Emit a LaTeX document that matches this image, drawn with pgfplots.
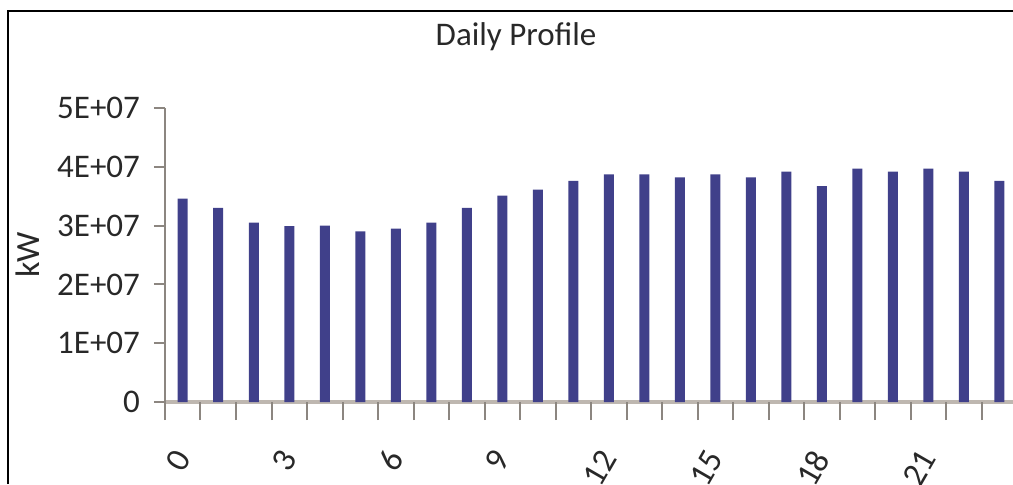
\documentclass[border=0pt]{standalone}
\usepackage{fontspec}
\setmainfont{Carlito}
\usepackage{pgfplots}
\pgfplotsset{compat=1.18}
\definecolor{barblue}{RGB}{64,64,138}
\definecolor{axlight}{RGB}{190,183,176}
\definecolor{axdark}{RGB}{140,134,128}
\definecolor{txt}{RGB}{40,40,40}
\begin{document}
\begin{tikzpicture}
\begin{axis}[
  at={(82.5pt,41pt)}, anchor=south west,
  scale only axis=true,
  width=426pt, height=147pt,
  xmin=-0.5, xmax=23.5,
  ymin=0, ymax=5e7,
  axis lines*=left,
  x axis line style={draw=axlight, line width=2pt},
  y axis line style={draw=axdark, line width=1pt},
  tick align=outside,
  major tick length=5.5pt,
  ytick={0,1e7,2e7,3e7,4e7,5e7},
  yticklabels={0,1E+07,2E+07,3E+07,4E+07,5E+07},
  scaled y ticks=false,
  ytick style={draw=axdark, line width=1pt},
  yticklabel style={font=\fontsize{16.5}{18}\selectfont, text=txt, xshift=-3.5pt},
  xtick={0,3,...,21},
  xticklabels={0,3,6,9,12,15,18,21},
  xtick style={draw=none},
  xticklabel style={font=\fontsize{17}{18}\selectfont, text=txt, yshift=-20pt, rotate=60, anchor=east, inner sep=0pt},
  extra x ticks={-0.5,0.5,...,23.5},
  extra x tick labels={},
  extra x tick style={major tick length=9pt, xtick style={draw=axdark, line width=1pt}},
  /pgf/number format/assume math mode=true,
  every axis y label/.style={at={(axis description cs:-0.161,0.5)}, rotate=90, anchor=center, font=\fontsize{17}{18}\selectfont, text=txt},
  ylabel={kW},
  clip=false,
]
\addplot[ybar, bar width=5pt, bar shift=0pt, fill=barblue, draw=none] coordinates {
  (0,3.46e7) (1,3.30e7) (2,3.05e7) (3,2.99e7) (4,3.00e7) (5,2.90e7)
  (6,2.95e7) (7,3.05e7) (8,3.30e7) (9,3.51e7) (10,3.61e7) (11,3.76e7)
  (12,3.87e7) (13,3.87e7) (14,3.82e7) (15,3.87e7) (16,3.82e7) (17,3.92e7)
  (18,3.67e7) (19,3.97e7) (20,3.92e7) (21,3.97e7) (22,3.92e7) (23,3.76e7)
};
\end{axis}
\node[font=\fontsize{16.5}{18}\selectfont, text=txt] at (258pt,223.5pt) {Daily Profile};
\draw[line width=1pt, black] (4pt,0pt) -- (4pt,236.5pt) -- (520pt,236.5pt);
\pgfresetboundingbox
\useasboundingbox (0,0) rectangle (506.5pt,242pt);
\end{tikzpicture}
\end{document}
